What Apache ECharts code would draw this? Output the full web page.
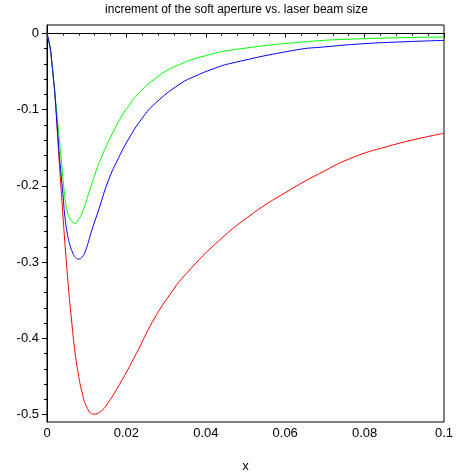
<!DOCTYPE html>
<html>
<head>
<meta charset="utf-8">
<script src="https://cdn.jsdelivr.net/npm/echarts@6/dist/echarts.min.js"></script>
<style>
  html, body { margin: 0; padding: 0; background: #fff; }
  #main { width: 473px; height: 473px; }
</style>
</head>
<body>
<div id="main"></div>
<script>
// values
const redX = [0, 0.0008, 0.0012, 0.0016, 0.002, 0.0025, 0.003, 0.0035, 0.004, 0.0046, 0.0054, 0.0061, 0.0071, 0.008, 0.0087, 0.01, 0.0118, 0.0135, 0.015, 0.0182, 0.0225, 0.0266, 0.0309, 0.0351, 0.0435, 0.0519, 0.0603, 0.0687, 0.0771, 0.0855, 0.0939, 0.1];
const redY = [0, -0.019, -0.037, -0.058, -0.08, -0.12, -0.162, -0.2, -0.238, -0.281, -0.333, -0.372, -0.42, -0.45, -0.468, -0.49, -0.4995, -0.496, -0.4875, -0.461, -0.42, -0.378, -0.343, -0.315, -0.271, -0.236, -0.208, -0.1835, -0.1625, -0.1486, -0.1375, -0.131];

const greenX = [0, 0.0008, 0.0012, 0.0016, 0.002, 0.0026, 0.0031, 0.0037, 0.0044, 0.0048, 0.0053, 0.0059, 0.0065, 0.0071, 0.0079, 0.0088, 0.0105, 0.0122, 0.0139, 0.0155, 0.0189, 0.0206, 0.0223, 0.0273, 0.0334, 0.0418, 0.046, 0.0628, 0.0796, 0.1];
const greenY = [0, -0.019, -0.037, -0.058, -0.08, -0.112, -0.138, -0.172, -0.21, -0.226, -0.237, -0.244, -0.248, -0.249, -0.2445, -0.236, -0.21, -0.183, -0.16, -0.1415, -0.1075, -0.095, -0.083, -0.0588, -0.0405, -0.0265, -0.022, -0.0118, -0.0068, -0.0046];

const blueX = [0, 0.0008, 0.0012, 0.0016, 0.002, 0.0026, 0.0031, 0.0036, 0.004, 0.0045, 0.0051, 0.0058, 0.0065, 0.0072, 0.008, 0.0088, 0.0097, 0.0113, 0.013, 0.0155, 0.0181, 0.0206, 0.024, 0.0273, 0.0334, 0.0375, 0.0418, 0.046, 0.0628, 0.07, 0.0796, 0.09, 0.1];
const blueY = [0, -0.019, -0.037, -0.058, -0.08, -0.124, -0.16, -0.188, -0.21, -0.24, -0.262, -0.278, -0.288, -0.294, -0.296, -0.2935, -0.285, -0.258, -0.2316, -0.1923, -0.1625, -0.138, -0.111, -0.0915, -0.0665, -0.0555, -0.0465, -0.0395, -0.0215, -0.0175, -0.0134, -0.0108, -0.009];

const yTicks = [-0.5, -0.4, -0.3, -0.2, -0.1, 0];

function pairs(xs, ys) {
  return xs.map((x, i) => [x, ys[i]]);
}

const font = "'Liberation Sans', Arial, sans-serif";

const chart = echarts.init(document.getElementById('main'));
chart.setOption({
  animation: false,
  backgroundColor: '#fff',
  title: {
    text: 'increment of the soft aperture vs. laser beam size',
    left: 'center',
    top: -1,
    textStyle: { fontSize: 12, fontWeight: 'normal', color: '#000', fontFamily: font }
  },
  grid: [
    // plot box
    { left: 47, right: 29, top: 25, bottom: 51, outerBoundsMode: 'none', show: true, borderColor: '#000', borderWidth: 1, backgroundColor: 'transparent' },
    // only for the y tick marks, from 0 down to -0.5
    { left: 47, right: 29, top: 33.5, bottom: 58.5, outerBoundsMode: 'none' }
  ],
  xAxis: [
    {
      type: 'value', gridIndex: 0, min: 0, max: 0.1, interval: 0.02,
      name: 'x', nameLocation: 'middle', nameGap: 38,
      nameTextStyle: { fontSize: 13, color: '#000', fontFamily: font },
      axisLine: { lineStyle: { color: '#000', width: 1 } },
      axisTick: { length: 4, lineStyle: { color: '#000' } },
      minorTick: { show: true, splitNumber: 5, length: 2, lineStyle: { color: '#000' } },
      axisLabel: { margin: 5, fontSize: 13, color: '#000', fontFamily: font },
      splitLine: { show: false }
    },
    { type: 'value', gridIndex: 1, min: 0, max: 1, show: false }
  ],
  yAxis: [
    {
      type: 'value', gridIndex: 0, min: -0.5098, max: 0.0112,
      axisLine: { show: true, lineStyle: { color: '#000', width: 1 } },
      axisTick: { show: false },
      axisLabel: { show: false },
      splitLine: { show: false }
    },
    {
      type: 'value', gridIndex: 1, min: yTicks[0], max: yTicks[yTicks.length - 1], interval: 0.1,
      axisLine: { show: false },
      axisTick: { show: true, length: 5, lineStyle: { color: '#000' } },
      minorTick: { show: true, splitNumber: 5, length: 3, lineStyle: { color: '#000' } },
      axisLabel: { margin: 8, fontSize: 13, color: '#000', fontFamily: font },
      splitLine: { show: false }
    }
  ],
  series: [
    { name: 'red', type: 'line', data: pairs(redX, redY), smooth: 0.5, showSymbol: false, lineStyle: { color: '#ff0000', width: 1 } },
    { name: 'green', type: 'line', data: pairs(greenX, greenY), smooth: 0.5, showSymbol: false, lineStyle: { color: '#00ff00', width: 1 } },
    { name: 'blue', type: 'line', data: pairs(blueX, blueY), smooth: 0.5, showSymbol: false, lineStyle: { color: '#0000ff', width: 1 } }
  ]
});
</script>
</body>
</html>
